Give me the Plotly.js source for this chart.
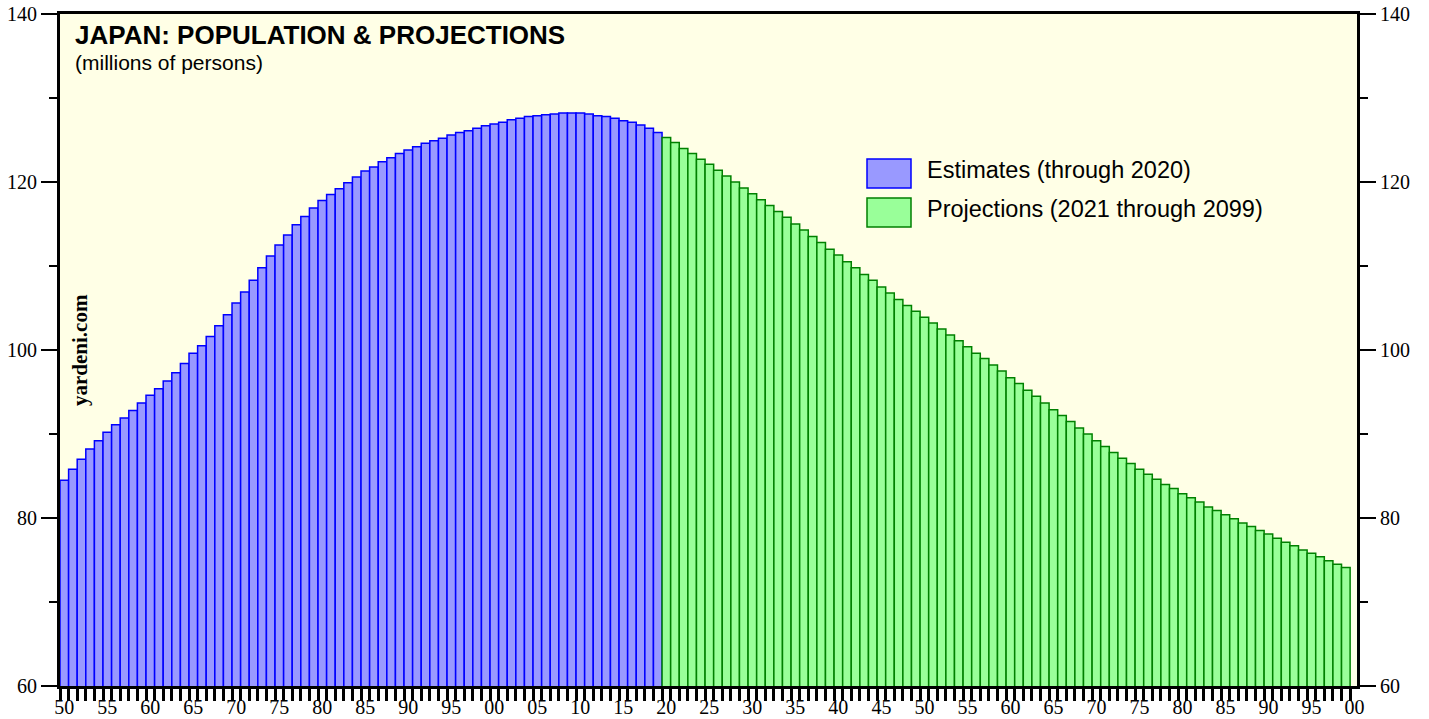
<!DOCTYPE html>
<html>
<head>
<meta charset="utf-8">
<script src="https://cdn.plot.ly/plotly-3.0.1.min.js"></script>
<style>
  html, body { margin: 0; padding: 0; background: #fff; }
  #chart { width: 1429px; height: 719px; }
</style>
</head>
<body>
<div id="chart"></div>
<script>
// ---- DATA (millions of persons) ----
const estimateYears = [1950,1951,1952,1953,1954,1955,1956,1957,1958,1959,
  1960,1961,1962,1963,1964,1965,1966,1967,1968,1969,
  1970,1971,1972,1973,1974,1975,1976,1977,1978,1979,
  1980,1981,1982,1983,1984,1985,1986,1987,1988,1989,
  1990,1991,1992,1993,1994,1995,1996,1997,1998,1999,
  2000,2001,2002,2003,2004,2005,2006,2007,2008,2009,
  2010,2011,2012,2013,2014,2015,2016,2017,2018,2019];
const estimates = [84.5,85.8,87.0,88.2,89.2,90.2,91.1,91.9,92.8,93.7,
  94.6,95.4,96.3,97.3,98.4,99.6,100.5,101.6,102.9,104.2,
  105.6,106.9,108.3,109.8,111.2,112.5,113.7,114.9,115.9,116.9,
  117.8,118.5,119.2,119.9,120.6,121.3,121.8,122.4,122.9,123.4,
  123.8,124.2,124.6,124.9,125.2,125.6,125.9,126.1,126.4,126.7,
  126.9,127.1,127.4,127.6,127.8,127.9,128.0,128.1,128.2,128.2,
  128.2,128.1,127.9,127.8,127.6,127.3,127.1,126.8,126.4,125.9];
const projectionYears = [2020,2021,2022,2023,2024,2025,2026,2027,2028,2029,
  2030,2031,2032,2033,2034,2035,2036,2037,2038,2039,
  2040,2041,2042,2043,2044,2045,2046,2047,2048,2049,
  2050,2051,2052,2053,2054,2055,2056,2057,2058,2059,
  2060,2061,2062,2063,2064,2065,2066,2067,2068,2069,
  2070,2071,2072,2073,2074,2075,2076,2077,2078,2079,
  2080,2081,2082,2083,2084,2085,2086,2087,2088,2089,
  2090,2091,2092,2093,2094,2095,2096,2097,2098,2099];
const projections = [125.3,124.7,124.0,123.4,122.7,122.1,121.4,120.7,120.0,119.3,
  118.6,117.9,117.2,116.5,115.8,115.0,114.3,113.5,112.8,112.0,
  111.3,110.5,109.8,109.0,108.3,107.5,106.8,106.0,105.3,104.6,
  103.9,103.2,102.5,101.8,101.1,100.4,99.6,99.0,98.2,97.5,
  96.7,96.0,95.2,94.5,93.7,92.9,92.2,91.5,90.7,90.0,
  89.2,88.5,87.8,87.1,86.5,85.8,85.2,84.6,84.0,83.5,
  82.9,82.4,81.9,81.3,80.9,80.4,79.9,79.4,79.0,78.5,
  78.1,77.6,77.1,76.7,76.2,75.8,75.4,74.9,74.5,74.1];
const seriesNames = ["Estimates (through 2020)", "Projections (2021 through 2099)"];
const xTickVals = [1950,1955,1960,1965,1970,1975,1980,1985,1990,1995,2000,2005,2010,2015,
  2020,2025,2030,2035,2040,2045,2050,2055,2060,2065,2070,2075,2080,2085,2090,2095,2100];
const xTickText = ["50","55","60","65","70","75","80","85","90","95","00","05","10","15",
  "20","25","30","35","40","45","50","55","60","65","70","75","80","85","90","95","00"];
const yTickVals = [60,80,100,120,140];
const titleText = "JAPAN: POPULATION & PROJECTIONS";
const subtitleText = "(millions of persons)";
const watermark = "yardeni.com";

// ---- STYLE ----
const W = 1429, H = 719;
const M = {l: 60, r: 72, t: 14, b: 33};
const PW = W - M.l - M.r, PH = H - M.t - M.b;
const px = x => (x - M.l) / PW;          // pixel -> paper x
const py = y => (H - M.b - y) / PH;      // pixel -> paper y
const colors = [
  {fill: "#9999FF", line: "#0000FF"},
  {fill: "#99FF99", line: "#008000"}
];
const serif = "Liberation Serif, Times New Roman, serif";
const sans = "Liberation Sans, Arial, sans-serif";

const traces = [
  {type: "bar", x: estimateYears, y: estimates, name: seriesNames[0], width: 1,
   marker: {color: colors[0].fill, line: {color: colors[0].line, width: 1.5}},
   showlegend: false, hoverinfo: "x+y"},
  {type: "bar", x: projectionYears, y: projections, name: seriesNames[1], width: 1,
   marker: {color: colors[1].fill, line: {color: colors[1].line, width: 1.5}},
   showlegend: false, hoverinfo: "x+y"},
  {type: "scatter", x: [estimateYears[0]], y: [estimates[0]], yaxis: "y2",
   mode: "markers", marker: {opacity: 0}, showlegend: false, hoverinfo: "skip"}
];

// legend drawn as boxes + labels
const legendBoxes = [[159, 188], [198, 227]];
const shapes = legendBoxes.map((b, i) => ({
  type: "rect", xref: "paper", yref: "paper",
  x0: px(867), x1: px(911), y0: py(b[1]), y1: py(b[0]),
  fillcolor: colors[i].fill, line: {color: colors[i].line, width: 1.5}
}));
const annotations = [
  {text: "<b>" + titleText + "</b>", xref: "paper", yref: "paper", x: px(73), y: py(35),
   xanchor: "left", yanchor: "middle", showarrow: false,
   font: {family: sans, size: 26, color: "#000"}},
  {text: subtitleText, xref: "paper", yref: "paper", x: px(73), y: py(63),
   xanchor: "left", yanchor: "middle", showarrow: false,
   font: {family: sans, size: 21, color: "#000"}},
  {text: "<b>" + watermark + "</b>", xref: "paper", yref: "paper", x: px(80), y: py(350),
   xanchor: "center", yanchor: "middle", textangle: -90, showarrow: false,
   font: {family: serif, size: 21, color: "#000"}}
].concat(legendBoxes.map((b, i) => ({
  text: seriesNames[i], xref: "paper", yref: "paper", x: px(925), y: py((b[0] + b[1]) / 2 - 4),
  xanchor: "left", yanchor: "middle", showarrow: false,
  font: {family: sans, size: 23.5, color: "#000"}
})));

const yCommon = {
  range: [60, 140], tickmode: "array", tickvals: yTickVals,
  ticks: "outside", ticklen: 16, tickwidth: 2, tickcolor: "#000",
  showline: true, linewidth: 3, linecolor: "#000",
  showgrid: false, zeroline: false, fixedrange: true,
  tickfont: {family: serif, size: 20, color: "#000"},
  minor: {tick0: 60, dtick: 10, ticks: "outside", ticklen: 8, tickwidth: 2, tickcolor: "#000", showgrid: false}
};

const layout = {
  width: W, height: H,
  margin: M,
  paper_bgcolor: "#FFFFFF",
  plot_bgcolor: "#FFFFE6",
  bargap: 0, barmode: "overlay",
  showlegend: false,
  xaxis: {
    range: [1949.5, 2100.3], tickmode: "array", tickvals: xTickVals, ticktext: xTickText,
    ticks: "outside", ticklen: 1, tickwidth: 2, tickcolor: "rgba(0,0,0,0)",
    showline: true, linewidth: 3, linecolor: "#000", mirror: true,
    showgrid: false, zeroline: false, fixedrange: true,
    tickfont: {family: serif, size: 20, color: "#000"},
    minor: {tick0: 1949.5, dtick: 1, ticks: "outside", ticklen: 12, tickwidth: 3, tickcolor: "#000", showgrid: false}
  },
  yaxis: Object.assign({}, yCommon, {side: "left"}),
  yaxis2: Object.assign({}, yCommon, {side: "right", overlaying: "y"}),
  shapes: shapes,
  annotations: annotations
};

Plotly.newPlot("chart", traces, layout, {staticPlot: true, displayModeBar: false});
</script>
</body>
</html>
